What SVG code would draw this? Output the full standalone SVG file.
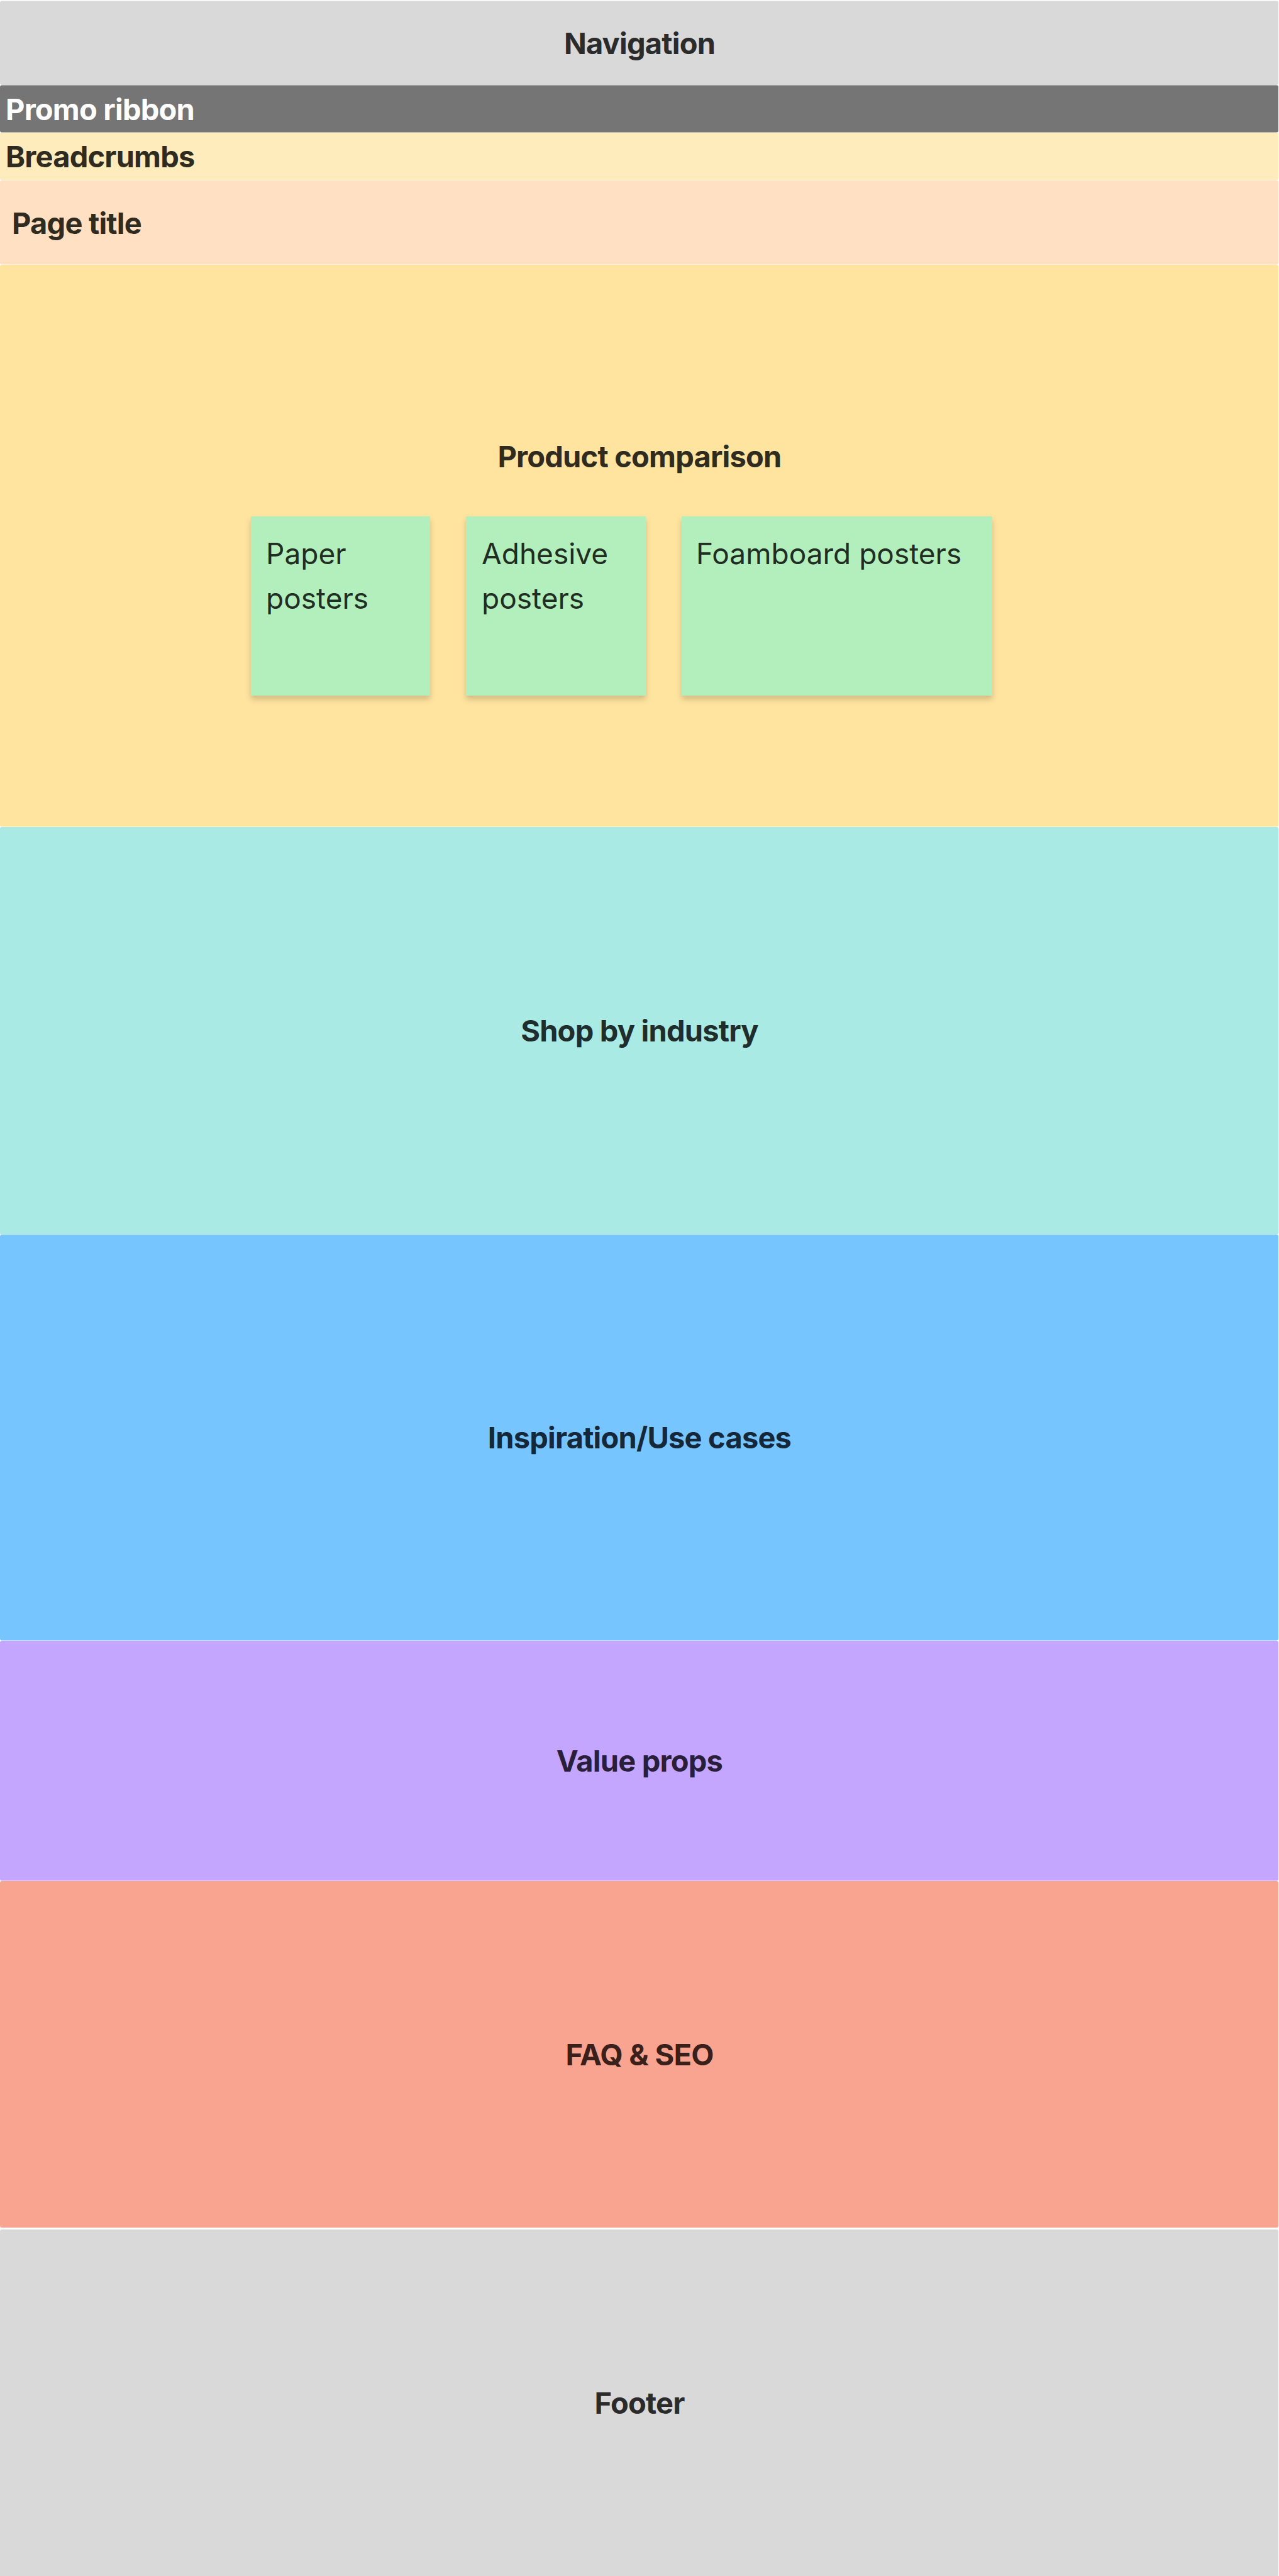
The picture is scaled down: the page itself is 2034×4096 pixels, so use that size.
<svg xmlns="http://www.w3.org/2000/svg" width="2034" height="4096" viewBox="0 0 2034 4096">
<defs>
<style>
.band{stroke:none}
.t{font-family:Inter,"Liberation Sans",sans-serif;font-weight:700;font-size:47px;letter-spacing:-0.8px}
.c{text-anchor:middle}
.card{fill:#b3efbd}
.ct{font-family:Inter,"Liberation Sans",sans-serif;font-weight:400;font-size:46px;fill:#1f2d22}
</style>
<filter id="sh" x="-10%" y="-10%" width="120%" height="125%">
<feDropShadow dx="0" dy="6" stdDeviation="5" flood-color="#000" flood-opacity="0.18"/>
</filter>
</defs>
<rect width="2034" height="4096" fill="#ffffff"/>
<g id="navigation">
<rect class="band" x="0" y="1.5" width="2033" height="133.5" rx="3" fill="#d9d9d9"/>
<text class="t c" x="1017" y="86" fill="#2b2b2b">Navigation</text>
</g>
<g id="promo-ribbon">
<rect class="band" x="0" y="135.5" width="2033" height="75" rx="3" fill="#757575"/>
<text class="t" x="9" y="191" fill="#ffffff">Promo ribbon</text>
</g>
<g id="breadcrumbs">
<rect class="band" x="0" y="211" width="2033" height="75.5" rx="3" fill="#ffecbd"/>
<text class="t" x="9" y="266" fill="#302b1f">Breadcrumbs</text>
</g>
<g id="page-title">
<rect class="band" x="0" y="287" width="2033" height="133.5" rx="3" fill="#ffe0c2"/>
<text class="t" x="19" y="372" fill="#302b1f">Page title</text>
</g>
<g id="product-comparison">
<rect class="band" x="0" y="421" width="2033" height="893.5" rx="3" fill="#ffe49f"/>
<text class="t c" x="1017" y="743" fill="#302b1f">Product comparison</text>
</g>
<g id="paper-posters">
<rect class="card" x="399" y="821" width="285" height="285" filter="url(#sh)"/>
<text class="ct" x="423" y="897">Paper</text>
<text class="ct" x="423" y="968">posters</text>
</g>
<g id="adhesive-posters">
<rect class="card" x="741" y="821" width="286" height="285" filter="url(#sh)"/>
<text class="ct" x="766" y="897">Adhesive</text>
<text class="ct" x="766" y="968">posters</text>
</g>
<g id="foamboard-posters">
<rect class="card" x="1084" y="821" width="494" height="285" filter="url(#sh)"/>
<text class="ct" x="1107" y="897">Foamboard posters</text>
</g>
<g id="shop-by-industry">
<rect class="band" x="0" y="1315" width="2033" height="647.5" rx="3" fill="#a9ebe4"/>
<text class="t c" x="1017" y="1656" fill="#1f2e2d">Shop by industry</text>
</g>
<g id="inspiration">
<rect class="band" x="0" y="1963" width="2033" height="645.5" rx="3" fill="#76c5ff"/>
<text class="t c" x="1017" y="2303" fill="#15283a">Inspiration/Use cases</text>
</g>
<g id="value-props">
<rect class="band" x="0" y="2609" width="2033" height="381.5" rx="3" fill="#c4a6ff"/>
<text class="t c" x="1017" y="2817" fill="#2a1f3a">Value props</text>
</g>
<g id="faq-seo">
<rect class="band" x="0" y="2991" width="2033" height="551" rx="3" fill="#f8a490"/>
<text class="t c" x="1017" y="3284" fill="#3a1f1a">FAQ &amp; SEO</text>
</g>
<g id="footer">
<rect class="band" x="0" y="3545" width="2033" height="556" rx="3" fill="#d9d9d9"/>
<text class="t c" x="1017" y="3838" fill="#2b2b2b">Footer</text>
</g>
<g id="connectors"></g>
</svg>
